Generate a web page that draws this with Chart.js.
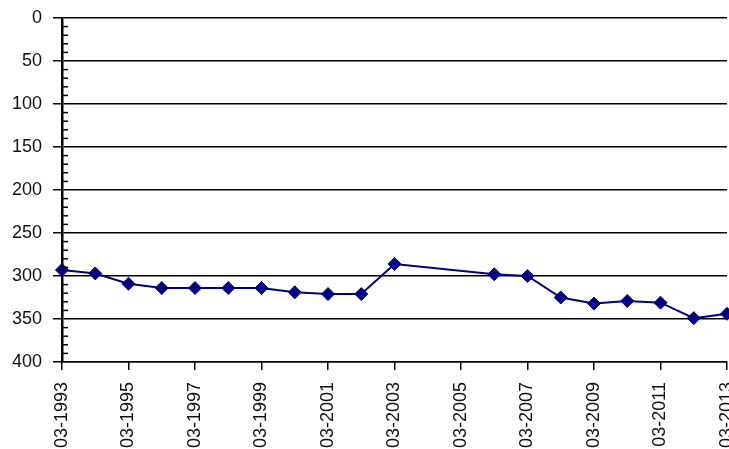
<!DOCTYPE html>
<html lang="en">
<head>
    <meta charset="UTF-8">
    <title>Chart</title>
    <script src="https://cdn.jsdelivr.net/npm/chart.js"></script>
    <style>
        html, body { margin: 0; padding: 0; background: #fff; }
        #wrap { position: relative; width: 729px; height: 449px; }
    </style>
</head>
<body>
    <div id="wrap"><canvas id="grafico"></canvas></div>

<script>
    // valores (marco de cada ano)
    const anos = [1993, 1994, 1995, 1996, 1997, 1998, 1999, 2000, 2001, 2002, 2003, 2006, 2007, 2008, 2009, 2010, 2011, 2012, 2013];
    const valores = [293, 297, 309, 314, 314, 314, 314, 319, 321, 321, 286, 298, 300, 325, 332, 329, 331, 349, 344];
    const rotuloAno = ano => '03-' + ano;

    const fonte = "'Liberation Sans', Arial, sans-serif";

    // tracinhos menores do eixo y (de 10 em 10, para dentro)
    const tracosMenores = {
        id: 'tracosMenores',
        afterDraw(chart) {
            const y = chart.scales.y;
            const ctx = chart.ctx;
            const left = chart.chartArea.left;
            ctx.save();
            ctx.strokeStyle = '#000';
            ctx.lineWidth = 1.5;
            for (let v = 10; v < 400; v += 10) {
                if (v % 50 === 0) continue;
                const py = y.getPixelForValue(v);
                ctx.beginPath();
                ctx.moveTo(left, py);
                ctx.lineTo(left + 6, py);
                ctx.stroke();
            }
            ctx.restore();
        }
    };

    const dados = anos.map((a, i) => ({ x: a, y: valores[i] }));

    new Chart(document.getElementById('grafico'), {
        type: 'line',
        data: {
            datasets: [{
                data: dados,
                borderColor: '#000080',
                backgroundColor: '#000080',
                borderWidth: 2,
                pointStyle: 'rectRot',
                pointRadius: 6.5,
                pointBorderWidth: 1,
                tension: 0,
                clip: false
            }]
        },
        options: {
            responsive: true,
            maintainAspectRatio: false,
            animation: false,
            layout: {
                autoPadding: false,
                padding: { top: 18, right: 2, left: 0, bottom: 0 }
            },
            plugins: {
                legend: { display: false },
                tooltip: { enabled: false }
            },
            scales: {
                x: {
                    type: 'linear',
                    min: 1993,
                    max: 2013,
                    afterFit(scale) {
                        scale.height = 87;
                        scale.paddingLeft = 0;
                        scale.paddingRight = 0;
                    },
                    afterBuildTicks(scale) {
                        const t = [];
                        for (let a = 1993; a <= 2013; a += 2) t.push({ value: a });
                        scale.ticks = t;
                    },
                    ticks: {
                        autoSkip: false,
                        minRotation: 90,
                        maxRotation: 90,
                        padding: 12,
                        color: '#111',
                        font: { family: fonte, size: 18 },
                        callback: v => rotuloAno(v)
                    },
                    grid: {
                        drawOnChartArea: false,
                        drawTicks: true,
                        tickLength: 8,
                        color: '#000',
                        lineWidth: 1.5
                    },
                    border: { display: true, color: '#000', width: 1.5 }
                },
                y: {
                    reverse: true,
                    min: 0,
                    max: 400,
                    afterFit(scale) {
                        scale.width = 62;
                        scale.paddingTop = 0;
                        scale.paddingBottom = 0;
                    },
                    ticks: {
                        stepSize: 50,
                        padding: 11,
                        color: '#111',
                        font: { family: fonte, size: 18 }
                    },
                    grid: {
                        color: '#000',
                        lineWidth: 1.5,
                        tickLength: 9
                    },
                    border: { display: true, color: '#000', width: 2.5 }
                }
            }
        },
        plugins: [tracosMenores]
    });
</script>
</body>
</html>
